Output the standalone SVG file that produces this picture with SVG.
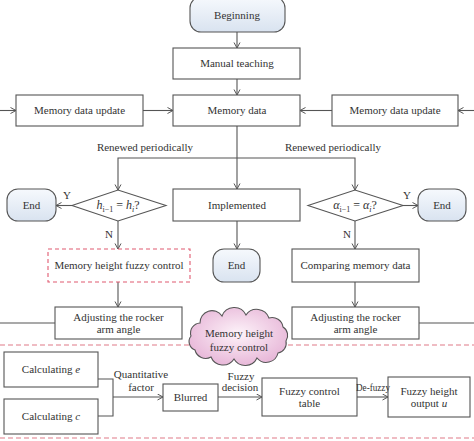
<svg xmlns="http://www.w3.org/2000/svg" width="474" height="441" viewBox="0 0 474 441">
<defs>
<linearGradient id="gBlue" x1="0" y1="0" x2="0" y2="1">
<stop offset="0" stop-color="#f6f9fd"/>
<stop offset="1" stop-color="#d9e3f0"/>
</linearGradient>
<radialGradient id="gPink" cx="0.5" cy="0.45" r="0.6">
<stop offset="0" stop-color="#fdf3f9"/>
<stop offset="1" stop-color="#e6b3d6"/>
</radialGradient>
<marker id="arr" markerWidth="8" markerHeight="8" refX="6" refY="3.5" orient="auto" markerUnits="userSpaceOnUse">
<path d="M0.5,0.5 L6,3.5 L0.5,6.5" fill="none" stroke="#555" stroke-width="1"/>
</marker>
<style>
.box{fill:#fff;stroke:#555;stroke-width:1.1}
.term{fill:url(#gBlue);stroke:#555;stroke-width:1.1}
.dash{fill:#fff;stroke:#e05a70;stroke-width:1.1;stroke-dasharray:4,3}
.line{fill:none;stroke:#555;stroke-width:1.1}
.arrow{fill:none;stroke:#555;stroke-width:1.1;marker-end:url(#arr)}
.sep{fill:none;stroke:#e07a88;stroke-width:1.1;stroke-dasharray:5,3}
text{font-family:"Liberation Serif","Times New Roman",serif;font-size:11px;fill:#333;text-anchor:middle}
.it{font-style:italic}
</style>
</defs>
<g id="separators">
<line class="sep" x1="0" y1="345" x2="474" y2="345"/>
<line class="sep" x1="0" y1="438" x2="474" y2="438"/>
</g>
<g id="connectors">
<line class="arrow" x1="237" y1="32" x2="237" y2="48"/>
<line class="arrow" x1="237" y1="79" x2="237" y2="95"/>
<line class="arrow" x1="0" y1="110.5" x2="16" y2="110.5"/>
<line class="arrow" x1="143" y1="110.5" x2="173" y2="110.5"/>
<line class="arrow" x1="332" y1="110.5" x2="300" y2="110.5"/>
<line class="arrow" x1="474" y1="110.5" x2="458" y2="110.5"/>
<line class="arrow" x1="237" y1="126" x2="237" y2="189"/>
<polyline class="arrow" points="237,158 118,158 118,190"/>
<polyline class="arrow" points="237,158 355,158 355,190"/>
<line class="arrow" x1="72" y1="205.5" x2="56" y2="205.5"/>
<line class="arrow" x1="403" y1="205.5" x2="418" y2="205.5"/>
<line class="arrow" x1="118" y1="221" x2="118" y2="249"/>
<line class="arrow" x1="355" y1="221" x2="355" y2="249"/>
<line class="arrow" x1="237" y1="221" x2="237" y2="249"/>
<line class="arrow" x1="118" y1="282" x2="118" y2="307"/>
<line class="arrow" x1="355" y1="282" x2="355" y2="307"/>
<line class="line" x1="55" y1="323" x2="0" y2="323"/>
<line class="line" x1="419" y1="323" x2="474" y2="323"/>
<polyline class="line" points="98,379 113,379 113,416 98,416"/>
<line class="arrow" x1="113" y1="397" x2="163" y2="397"/>
<line class="arrow" x1="218" y1="397" x2="262" y2="397"/>
<line class="arrow" x1="357" y1="397" x2="388" y2="397"/>
</g>
<g id="beginning"><rect class="term" x="190" y="-3" width="95" height="35" rx="11"/><text x="237" y="19">Beginning</text></g>
<g id="manual-teaching"><rect class="box" x="173" y="48" width="127" height="31"/><text x="237" y="67">Manual teaching</text></g>
<g id="memory-data"><rect class="box" x="173" y="95" width="127" height="31"/><text x="237" y="114">Memory data</text></g>
<g id="update-left"><rect class="box" x="16" y="95" width="127" height="31"/><text x="79.5" y="114">Memory data update</text></g>
<g id="update-right"><rect class="box" x="332" y="95" width="126" height="31"/><text x="395" y="114">Memory data update</text></g>
<g id="decision-h"><polygon class="box" points="72,205.5 118,190 166,205.5 118,221"/>
<text x="118" y="209" style="font-size:12px"><tspan class="it">h</tspan><tspan style="font-size:8px" dy="3">i−1</tspan><tspan dy="-3"> = </tspan><tspan class="it">h</tspan><tspan class="it" style="font-size:8px" dy="3">i</tspan><tspan dy="-3">?</tspan></text></g>
<g id="implemented"><rect class="box" x="173" y="189" width="127" height="32"/><text x="237" y="209">Implemented</text></g>
<g id="end-left"><rect class="term" x="7" y="189" width="49" height="32" rx="11"/><text x="31.5" y="209">End</text></g>
<g id="end-center"><rect class="term" x="213" y="249" width="47" height="33" rx="11"/><text x="236.5" y="269">End</text></g>
<g id="decision-a"><polygon class="box" points="308,205.5 355,190 403,205.5 355,221"/>
<text x="355" y="209" style="font-size:12px"><tspan class="it">α</tspan><tspan style="font-size:8px" dy="3">i−1</tspan><tspan dy="-3"> = </tspan><tspan class="it">α</tspan><tspan class="it" style="font-size:8px" dy="3">i</tspan><tspan dy="-3">?</tspan></text></g>
<g id="end-right"><rect class="term" x="418" y="189" width="48" height="32" rx="11"/><text x="442" y="209">End</text></g>
<g id="memory-height-fuzzy"><rect class="dash" x="48" y="249" width="142" height="33"/><text x="119" y="269">Memory height fuzzy control</text></g>
<g id="comparing"><rect class="box" x="292" y="249" width="127" height="33"/><text x="355.5" y="269">Comparing memory data</text></g>
<g id="adjust-left"><rect class="box" x="55" y="307" width="127" height="32"/><text x="118.5" y="321">Adjusting the rocker</text><text x="118.5" y="333">arm angle</text></g>
<g id="adjust-right"><rect class="box" x="292" y="307" width="127" height="32"/><text x="355.5" y="321">Adjusting the rocker</text><text x="355.5" y="333">arm angle</text></g>
<g id="cloud"><path fill="url(#gPink)" stroke="#555" stroke-width="1.1" d="M200,323 A12,12 0 0 1 222,316 A13,13 0 0 1 246,315 A13,13 0 0 1 269,318 A11,11 0 0 1 283,327 A10,10 0 0 1 286,341 A10,10 0 0 1 278,353 A12,12 0 0 1 257,358 A13,13 0 0 1 234,359 A13,13 0 0 1 211,357 A11,11 0 0 1 195,350 A9,9 0 0 1 191,336 A10,10 0 0 1 200,323 Z"/><text x="239" y="337">Memory height</text><text x="239" y="351">fuzzy control</text></g>
<g id="calc-e"><rect class="box" x="4" y="352" width="94" height="35"/><text x="51" y="373">Calculating <tspan class="it">e</tspan></text></g>
<g id="calc-c"><rect class="box" x="4" y="399" width="94" height="35"/><text x="51" y="420">Calculating <tspan class="it">c</tspan></text></g>
<g id="blurred"><rect class="box" x="163" y="384" width="55" height="27"/><text x="190.5" y="401">Blurred</text></g>
<g id="fuzzy-table"><rect class="box" x="262" y="378" width="95" height="38"/><text x="309.5" y="395">Fuzzy control</text><text x="309.5" y="407">table</text></g>
<g id="fuzzy-output"><rect class="box" x="388" y="377" width="82" height="40"/><text x="429" y="395">Fuzzy height</text><text x="429" y="407">output <tspan class="it">u</tspan></text></g>
<g id="labels">
<text x="145" y="151">Renewed periodically</text>
<text x="333" y="151">Renewed periodically</text>
<text x="67" y="199">Y</text>
<text x="407" y="199">Y</text>
<text x="109" y="238">N</text>
<text x="347" y="238">N</text>
<text x="141" y="378">Quantitative</text>
<text x="141" y="391">factor</text>
<text x="241" y="380">Fuzzy</text>
<text x="240" y="391">decision</text>
<text x="373" y="391" textLength="34" lengthAdjust="spacingAndGlyphs">De-fuzzy</text>
</g>
</svg>
